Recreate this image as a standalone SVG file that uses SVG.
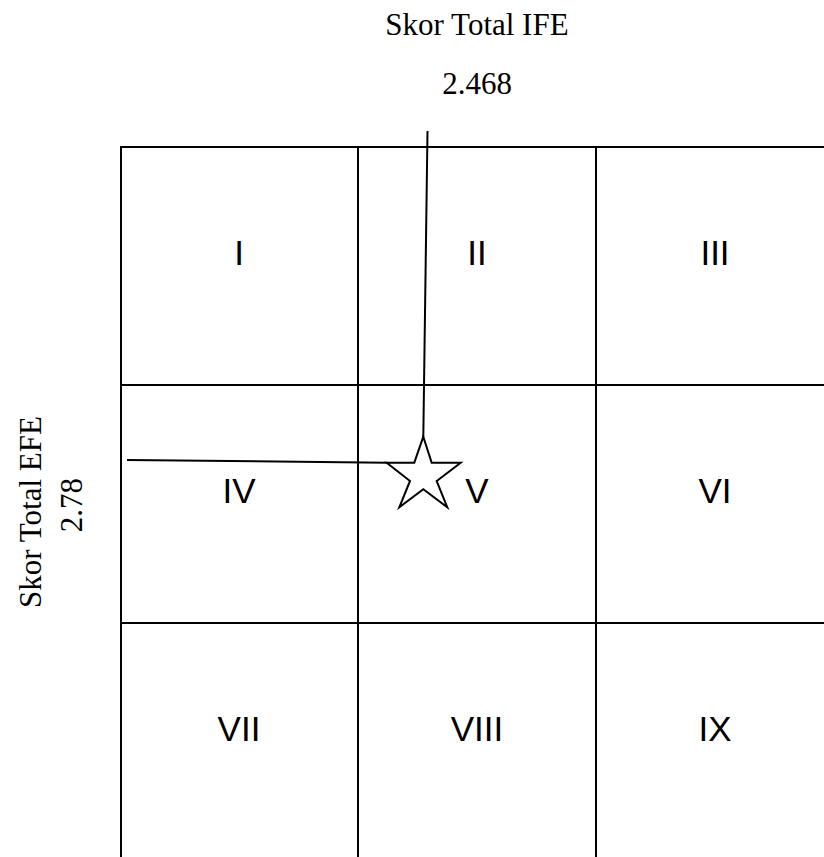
<svg xmlns="http://www.w3.org/2000/svg" width="824" height="857" viewBox="0 0 824 857">
<style>
.grid{stroke:#000;stroke-width:2;fill:none}
.cell{font-family:"Liberation Sans",Arial,sans-serif;font-size:35px;fill:#000;text-anchor:middle}
.axis{font-family:"Liberation Serif","Times New Roman",serif;font-size:31px;fill:#000;text-anchor:middle}
.conn{stroke:#000;stroke-width:2;fill:none}
</style>
<rect width="824" height="857" fill="#fff"/>
<g id="grid">
<line class="grid" x1="120" y1="147" x2="824" y2="147"/>
<line class="grid" x1="120" y1="385" x2="824" y2="385"/>
<line class="grid" x1="120" y1="623" x2="824" y2="623"/>
<line class="grid" x1="121" y1="146" x2="121" y2="857"/>
<line class="grid" x1="358" y1="146" x2="358" y2="857"/>
<line class="grid" x1="596" y1="146" x2="596" y2="857"/>
</g>
<g id="cell-I"><text class="cell" x="239" y="265">I</text></g>
<g id="cell-II"><text class="cell" x="477" y="265">II</text></g>
<g id="cell-III"><text class="cell" x="715" y="265">III</text></g>
<g id="cell-IV"><text class="cell" x="239" y="503">IV</text></g>
<g id="cell-V"><text class="cell" x="477" y="503">V</text></g>
<g id="cell-VI"><text class="cell" x="715" y="503">VI</text></g>
<g id="cell-VII"><text class="cell" x="239" y="741">VII</text></g>
<g id="cell-VIII"><text class="cell" x="477" y="741">VIII</text></g>
<g id="cell-IX"><text class="cell" x="715" y="741">IX</text></g>
<g id="label-ife">
<text class="axis" x="477" y="35">Skor Total IFE</text>
<text class="axis" x="477" y="94">2.468</text>
</g>
<g id="label-efe">
<text class="axis" transform="translate(41,512) rotate(-90)">Skor Total EFE</text>
<text class="axis" transform="translate(82,505) rotate(-90)">2.78</text>
</g>
<g id="connectors">
<line class="conn" x1="427.5" y1="131" x2="423.3" y2="437"/>
<line class="conn" x1="127" y1="460" x2="387" y2="462.7"/>
</g>
<g id="star">
<polygon class="conn" points="423.3,436.7 431.7,462.7 460.7,462.7 436.7,481 447.3,507.3 423.3,489.3 399.3,507.3 410,481 386.7,462.7 414.3,462.7"/>
</g>
</svg>
